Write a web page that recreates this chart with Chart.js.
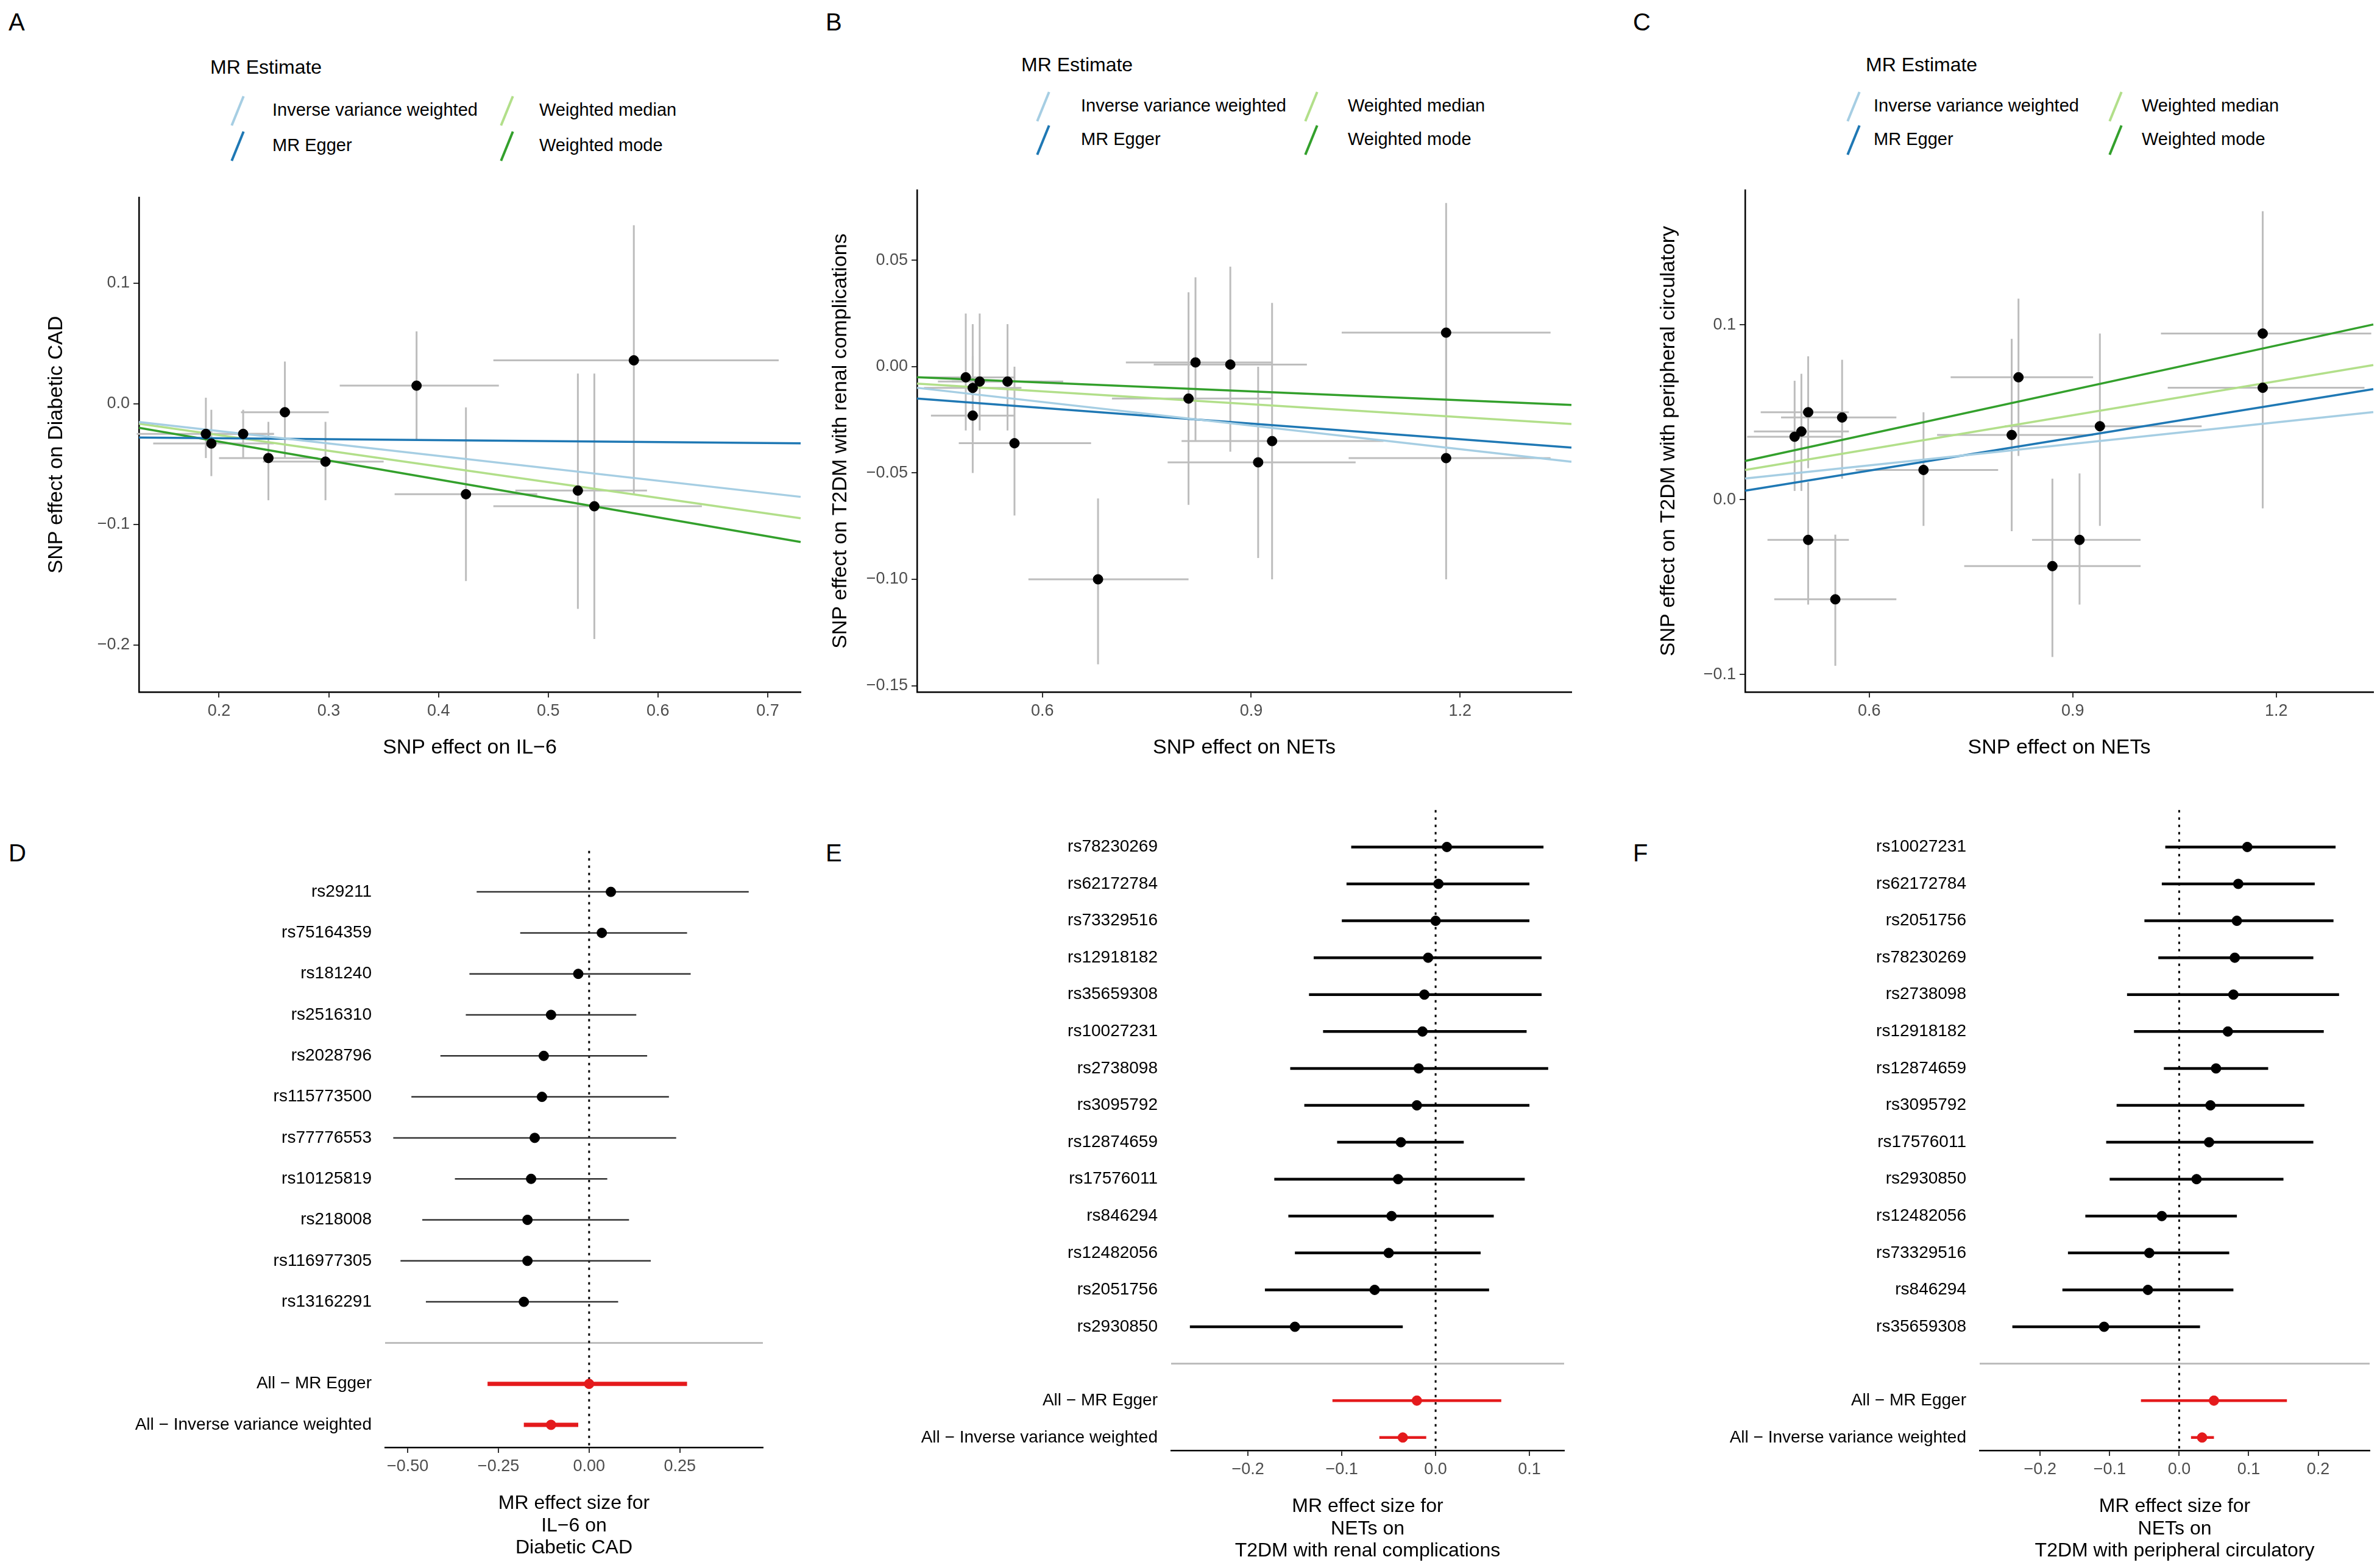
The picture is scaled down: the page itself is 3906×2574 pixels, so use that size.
<!DOCTYPE html>
<html><head><meta charset="utf-8">
<script src="https://cdn.jsdelivr.net/npm/chart.js@4.4.1/dist/chart.umd.min.js"></script>
<style>
body{margin:0;background:#fff;width:3906px;height:2574px;position:relative;overflow:hidden;font-family:"Liberation Sans",Arial,sans-serif}
.lab{position:absolute;font-size:40px;color:#000}
.cv{position:absolute}
.lg{position:absolute;font-size:29px;color:#000;white-space:nowrap}
.ln{position:absolute;width:4px;height:52px;transform:rotate(22deg)}
</style></head><body>
<div class="lab" style="left:14px;top:14px">A</div>
<div class="lab" style="left:1355px;top:14px">B</div>
<div class="lab" style="left:2680px;top:14px">C</div>
<div class="lab" style="left:14px;top:1378px">D</div>
<div class="lab" style="left:1355px;top:1378px">E</div>
<div class="lab" style="left:2680px;top:1378px">F</div>
<div id="legs"></div>
<canvas id="cA" class="cv"></canvas><canvas id="cB" class="cv"></canvas><canvas id="cC" class="cv"></canvas>
<canvas id="cD" class="cv"></canvas><canvas id="cE" class="cv"></canvas><canvas id="cF" class="cv"></canvas>
<script>
// ---------- DATA ----------
const methodNames=["Inverse variance weighted","MR Egger","Weighted median","Weighted mode"];
const methodColors=["#a6cee3","#1f78b4","#b2df8a","#33a02c"];
// Panel A: IL-6 -> Diabetic CAD
const aX=[0.188,0.193,0.222,0.245,0.260,0.297,0.380,0.425,0.527,0.542,0.578];
const aY=[-0.025,-0.033,-0.025,-0.045,-0.007,-0.048,0.015,-0.075,-0.072,-0.085,0.036];
const aXlo=[0.125,0.14,0.19,0.20,0.22,0.24,0.31,0.36,0.47,0.45,0.45];
const aXhi=[0.25,0.25,0.25,0.29,0.30,0.35,0.455,0.49,0.59,0.64,0.71];
const aYlo=[-0.045,-0.06,-0.045,-0.08,-0.045,-0.08,-0.03,-0.147,-0.17,-0.195,-0.075];
const aYhi=[0.005,-0.005,-0.005,-0.015,0.035,-0.015,0.06,-0.003,0.025,0.025,0.148];
const aInt=[-0.002,-0.027,0.0,0.0];
const aSlope=[-0.103,-0.008,-0.13,-0.157];
const aXTicks=[0.2,0.3,0.4,0.5,0.6,0.7];
const aYTicks=[-0.2,-0.1,0.0,0.1];
// Panel B: NETs -> T2DM renal
const bX=[0.49,0.50,0.50,0.51,0.55,0.56,0.68,0.81,0.82,0.87,0.91,0.93,1.18,1.18];
const bY=[-0.005,-0.010,-0.023,-0.007,-0.007,-0.036,-0.100,-0.015,0.002,0.001,-0.045,-0.035,0.016,-0.043];
const bXlo=[0.42,0.43,0.44,0.45,0.47,0.48,0.58,0.70,0.72,0.76,0.78,0.80,1.03,1.04];
const bXhi=[0.56,0.57,0.56,0.60,0.63,0.67,0.81,0.93,0.93,0.98,1.05,1.09,1.33,1.33];
const bYlo=[-0.03,-0.035,-0.05,-0.03,-0.03,-0.07,-0.14,-0.065,-0.035,-0.04,-0.09,-0.10,-0.045,-0.10];
const bYhi=[0.025,0.02,0.005,0.025,0.02,0.0,-0.062,0.035,0.042,0.047,0.0,0.03,0.077,0.015];
const bInt=[0.0056,-0.0047,0.0005,0.0008];
const bSlope=[-0.037,-0.0245,-0.0202,-0.0138];
const bXTicks=[0.6,0.9,1.2];
const bYTicks=[-0.15,-0.10,-0.05,0.00,0.05];
// Panel C: NETs -> T2DM peripheral circulatory
const cX=[0.49,0.50,0.51,0.51,0.56,0.55,0.68,0.81,0.82,0.87,0.91,0.94,1.18,1.18];
const cY=[0.036,0.039,0.050,-0.023,0.047,-0.057,0.017,0.037,0.070,-0.038,-0.023,0.042,0.095,0.064];
const cXlo=[0.42,0.43,0.44,0.45,0.47,0.46,0.58,0.70,0.72,0.74,0.84,0.80,1.03,1.04];
const cXhi=[0.56,0.57,0.57,0.57,0.64,0.64,0.79,0.93,0.93,1.00,1.00,1.09,1.34,1.33];
const cYlo=[0.005,0.005,0.018,-0.06,0.012,-0.095,-0.015,-0.018,0.025,-0.09,-0.06,-0.015,0.025,-0.005];
const cYhi=[0.068,0.072,0.082,0.01,0.08,-0.02,0.05,0.092,0.115,0.012,0.015,0.095,0.165,0.135];
const cInt=[-0.005,-0.021,-0.010,-0.013];
const cSlope=[0.041,0.0627,0.0648,0.0843];
const cXTicks=[0.6,0.9,1.2];
const cYTicks=[-0.1,0.0,0.1];
// Panel D forest
const dSnps=["rs29211","rs75164359","rs181240","rs2516310","rs2028796","rs115773500","rs77776553","rs10125819","rs218008","rs116977305","rs13162291"];
const dEst=[0.06,0.035,-0.03,-0.105,-0.125,-0.13,-0.15,-0.16,-0.17,-0.17,-0.18];
const dLo=[-0.31,-0.19,-0.33,-0.34,-0.41,-0.49,-0.54,-0.37,-0.46,-0.52,-0.45];
const dHi=[0.44,0.27,0.28,0.13,0.16,0.22,0.24,0.05,0.11,0.17,0.08];
const dAll=[0.0,-0.105]; const dAllLo=[-0.28,-0.18]; const dAllHi=[0.27,-0.03];
const dXTicks=[-0.5,-0.25,0,0.25];
// Panel E forest
const eSnps=["rs78230269","rs62172784","rs73329516","rs12918182","rs35659308","rs10027231","rs2738098","rs3095792","rs12874659","rs17576011","rs846294","rs12482056","rs2051756","rs2930850"];
const eEst=[0.012,0.003,0.0,-0.008,-0.012,-0.014,-0.018,-0.02,-0.037,-0.04,-0.047,-0.05,-0.065,-0.15];
const eLo=[-0.09,-0.095,-0.1,-0.13,-0.135,-0.12,-0.155,-0.14,-0.105,-0.172,-0.157,-0.15,-0.182,-0.262];
const eHi=[0.115,0.1,0.1,0.113,0.113,0.097,0.12,0.1,0.03,0.095,0.062,0.048,0.057,-0.035];
const eAll=[-0.02,-0.035]; const eAllLo=[-0.11,-0.06]; const eAllHi=[0.07,-0.01];
const eXTicks=[-0.2,-0.1,0.0,0.1];
// Panel F forest
const fSnps=["rs10027231","rs62172784","rs2051756","rs78230269","rs2738098","rs12918182","rs12874659","rs3095792","rs17576011","rs2930850","rs12482056","rs73329516","rs846294","rs35659308"];
const fEst=[0.098,0.085,0.083,0.08,0.078,0.07,0.053,0.045,0.043,0.025,-0.025,-0.043,-0.045,-0.108];
const fLo=[-0.02,-0.025,-0.05,-0.03,-0.075,-0.065,-0.022,-0.09,-0.105,-0.1,-0.135,-0.16,-0.168,-0.24];
const fHi=[0.225,0.195,0.222,0.193,0.23,0.208,0.128,0.18,0.193,0.15,0.083,0.072,0.078,0.03];
const fAll=[0.05,0.033]; const fAllLo=[-0.055,0.017]; const fAllHi=[0.155,0.05];
const fXTicks=[-0.2,-0.1,0.0,0.1,0.2];
const allLabels=["All − MR Egger","All − Inverse variance weighted"];

// ---------- HELPERS ----------
const FONT="'Liberation Sans', Arial, sans-serif";
function seg(x1,y1,x2,y2,color,w,dash){return {data:[{x:x1,y:y1},{x:x2,y:y2}],showLine:true,borderColor:color,borderWidth:w,pointRadius:0,borderDash:dash||[],fill:false,clip:false};}
function place(id,L,T,R,B,yW,xH,padT,padR){
  const c=document.getElementById(id);
  const left=L-yW, top=T-padT, w=R-left+padR, h=B+xH-top;
  c.style.left=left+'px';c.style.top=top+'px';c.style.width=w+'px';c.style.height=h+'px';
  c.width=w;c.height=h;return c;
}
function axisX(min,max,ticks,title,xH,tfs,tpad){
  return {type:'linear',min,max,afterBuildTicks:s=>{s.ticks=ticks.map(v=>({value:v}));},afterFit:s=>{s.height=xH;},
    grid:{display:true,drawOnChartArea:false,drawTicks:true,tickLength:9,color:'#333',lineWidth:2},
    border:{display:true,color:'#000',width:2.5},
    ticks:{color:'#4d4d4d',font:{size:27,family:FONT},padding:6,maxRotation:0,callback:v=>fmt(v,ticks)},
    title:{display:true,text:title,color:'#000',font:{size:tfs||34,family:FONT,lineHeight:1.15},padding:{top:tpad==null?8:tpad}}};
}
function fmt(v,ticks){
  const dec=Math.max(...ticks.map(t=>{const s=String(t);return s.includes('.')?s.split('.')[1].length:0;}));
  const d=Math.max(dec,1);
  return Number(v).toFixed(d).replace('-','−');
}
function scatterPanel(id,box,X,Y,Xlo,Xhi,Ylo,Yhi,ints,slopes,xr,yr,xt,yt,xtitle,ytitle){
  const ds=[];
  ds.push({data:X.map((x,i)=>({x,y:Y[i]})),pointRadius:8,pointBackgroundColor:'#000',pointBorderColor:'#000',showLine:false});
  for(let k=0;k<4;k++) ds.push(seg(xr[0],ints[k]+slopes[k]*xr[0],xr[1],ints[k]+slopes[k]*xr[1],methodColors[k],3.5));
  for(let i=0;i<X.length;i++){ds.push(seg(Xlo[i],Y[i],Xhi[i],Y[i],'#bdbdbd',3));ds.push(seg(X[i],Ylo[i],X[i],Yhi[i],'#bdbdbd',3));}
  const c=place(id,box[0],box[1],box[2],box[3],box[4],115,20,box[5]);
  new Chart(c,{type:'scatter',data:{datasets:ds},options:{responsive:false,animation:false,devicePixelRatio:1,
    layout:{padding:{top:20,right:box[5],left:0,bottom:0}},plugins:{legend:{display:false},tooltip:{enabled:false}},
    scales:{x:axisX(xr[0],xr[1],xt,xtitle,115),
      y:{type:'linear',min:yr[0],max:yr[1],afterBuildTicks:s=>{s.ticks=yt.map(v=>({value:v}));},afterFit:s=>{s.width=box[4];},
        grid:{display:true,drawOnChartArea:false,drawTicks:true,tickLength:9,color:'#333',lineWidth:2},
        border:{display:true,color:'#000',width:2.5},
        ticks:{color:'#4d4d4d',font:{size:27,family:FONT},padding:6,callback:v=>fmt(v,yt)},
        title:{display:true,text:ytitle,color:'#000',font:{size:34,family:FONT},padding:{bottom:6}}}}}});
}
function forestPanel(id,box,snps,est,lo,hi,allE,allLo,allHi,xr,xt,xtitle,rowMax,lw,redw){
  const n=snps.length, sepRow=n+1, rows=[...snps.map((_,i)=>i+1),n+2,n+3];
  const labels={};snps.forEach((s,i)=>labels[i+1]=s);labels[n+2]=allLabels[0];labels[n+3]=allLabels[1];
  const ds=[];
  ds.push({data:est.map((v,i)=>({x:v,y:i+1})),pointRadius:8,pointBackgroundColor:'#000',pointBorderColor:'#000'});
  ds.push({data:allE.map((v,i)=>({x:v,y:n+2+i})),pointRadius:8,pointBackgroundColor:'#e41a1c',pointBorderColor:'#e41a1c'});
  for(let i=0;i<n;i++) ds.push(seg(lo[i],i+1,hi[i],i+1,lw[1],lw[0]));
  for(let i=0;i<2;i++) ds.push(seg(allLo[i],n+2+i,allHi[i],n+2+i,'#e41a1c',redw));
  ds.push(seg(0,0,0,rowMax,'#000',3,[4,8]));
  ds.push(seg(xr[0],sepRow,xr[1],sepRow,'#bdbdbd',3));
  const xH=188;
  const c=place(id,box[0],box[1],box[2],box[3],box[4],xH,10,12);
  new Chart(c,{type:'scatter',data:{datasets:ds},options:{responsive:false,animation:false,devicePixelRatio:1,
    layout:{padding:{top:10,right:12,left:0,bottom:0}},plugins:{legend:{display:false},tooltip:{enabled:false}},
    scales:{x:axisX(xr[0],xr[1],xt,xtitle,xH,32,2),
      y:{type:'linear',reverse:true,min:0,max:rowMax,afterBuildTicks:s=>{s.ticks=rows.map(v=>({value:v}));},afterFit:s=>{s.width=box[4];},
        grid:{display:false},border:{display:false},
        ticks:{color:'#000',font:{size:28,family:FONT},padding:14,autoSkip:false,callback:v=>labels[v]||''}}}}});
}
// ---------- CHARTS ----------
scatterPanel('cA',[228,322,1314,1136,160,20],aX,aY,aXlo,aXhi,aYlo,aYhi,aInt,aSlope,[0.127,0.73],[-0.239,0.171],aXTicks,aYTicks,'SNP effect on IL−6','SNP effect on Diabetic CAD');
scatterPanel('cB',[1505,310,2579,1136,150,20],bX,bY,bXlo,bXhi,bYlo,bYhi,bInt,bSlope,[0.42,1.36],[-0.153,0.083],bXTicks,bYTicks,'SNP effect on NETs','SNP effect on T2DM with renal complications');
scatterPanel('cC',[2864,310,3900,1136,150,4],cX,cY,cXlo,cXhi,cYlo,cYhi,cInt,cSlope,[0.417,1.343],[-0.11,0.177],cXTicks,cYTicks,'SNP effect on NETs','SNP effect on T2DM with peripheral circulatory');
forestPanel('cD',[632,1376,1252,2376,470],dSnps,dEst,dLo,dHi,dAll,dAllLo,dAllHi,[-0.5625,0.479],dXTicks,['MR effect size for','IL−6 on','Diabetic CAD'],14.55,[2.5,'#333'],7);
forestPanel('cE',[1922,1309,2567,2381,480],eSnps,eEst,eLo,eHi,eAll,eAllLo,eAllHi,[-0.282,0.137],eXTicks,['MR effect size for','NETs on','T2DM with renal complications'],17.35,[4.5,'#000'],4.5);
forestPanel('cF',[3249,1309,3889,2381,480],fSnps,fEst,fLo,fHi,fAll,fAllLo,fAllHi,[-0.287,0.274],fXTicks,['MR effect size for','NETs on','T2DM with peripheral circulatory'],17.35,[4.5,'#000'],4.5);
// ---------- LEGENDS ----------
function legend(tx,ty,lx1,tx1,lx2,tx2,r1,r2){
  let h=`<div class="lg" style="left:${tx}px;top:${ty}px;font-size:32px">MR Estimate</div>`;
  const pos=[[lx1,tx1,r1],[lx1,tx1,r2],[lx2,tx2,r1],[lx2,tx2,r2]];
  for(let k=0;k<4;k++){const [lx,txx,ry]=pos[k];
    h+=`<div class="ln" style="left:${lx}px;top:${ry-26}px;background:${methodColors[k]}"></div>`;
    h+=`<div class="lg" style="left:${txx}px;top:${ry-18}px">${methodNames[k]}</div>`;}
  document.getElementById('legs').innerHTML+=h;
}
legend(345,92,388,447,830,885,182,240);
legend(1676,88,1710,1774,2150,2212,175,230);
legend(3062,88,3040,3075,3470,3515,175,230);
</script></body></html>
